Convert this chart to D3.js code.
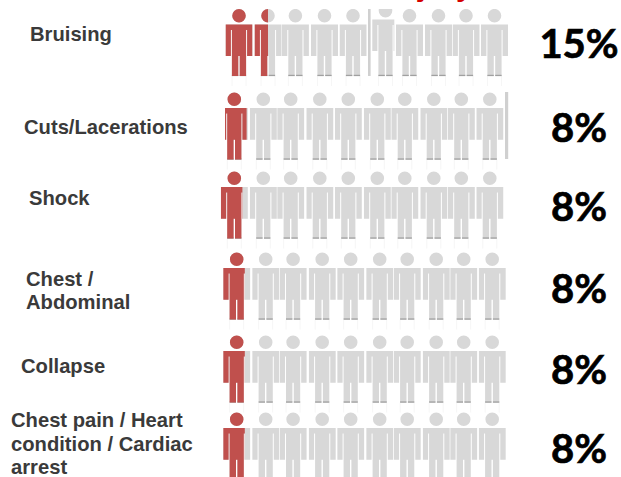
<!DOCTYPE html>
<html>
<head>
<meta charset="utf-8">
<script src="https://cdn.jsdelivr.net/npm/d3@7"></script>
<style>
  html, body { margin: 0; padding: 0; background: #fff; overflow: hidden; }
  svg { display: block; }
</style>
</head>
<body>
<div id="chart"></div>
<script>
const categories = ["Bruising", "Cuts/Lacerations", "Shock", "Chest / Abdominal", "Collapse", "Chest pain / Heart condition / Cardiac arrest"];
const percents = [15, 8, 8, 8, 8, 8];
const labelLines = [
  ["Bruising"],
  ["Cuts/Lacerations"],
  ["Shock"],
  ["Chest /", "Abdominal"],
  ["Collapse"],
  ["Chest pain / Heart", "condition / Cardiac", "arrest"]
];
const people = d3.range(10); // one person = 10%

const width = 621;
const height = 477;

// rows and people are not evenly spaced in the picture
const rowY = d3.scaleOrdinal(categories, [15.7, 99.3, 178.3, 259.3, 342.3, 419.3]);
const rowX = d3.scaleOrdinal(categories, [239, 234.3, 234.3, 236.7, 236.7, 236.7]);
const rowCut = d3.scaleOrdinal(categories, [0, 4.2, 0, 0, 0, 0]); // first figure of row 2 is cropped
const labelX = d3.scaleOrdinal(categories, [30, 24, 29, 26, 21, 11]);
const labelY = d3.scaleOrdinal(categories, [41, 134, 204.5, 286, 373, 427.3]);
const pctY = d3.scaleOrdinal(categories, [58, 142, 221, 303, 384, 463]);
const personX = d3.scaleOrdinal(people, [0, 29, 56.4, 85.5, 114, 143, 170.5, 199.5, 227, 255.5]);

const svg = d3.select("#chart").append("svg").attr("width", width).attr("height", height);
const defs = svg.append("defs");

// stick figure, drawn around head centre
function personPath(cx, headY, legBottom) {
  const p = d3.path();
  const top = headY + 8.7;
  const armBottom = top + 31.7;
  const legEnd = legBottom === undefined ? top + 51.6 : legBottom;
  p.moveTo(cx + 6.8, headY);
  p.arc(cx, headY, 6.8, 0, 2 * Math.PI);
  p.rect(cx - 13.5, top, 27, 5.5);
  p.rect(cx - 13.5, top + 5.5, 5.4, armBottom - top - 5.5);
  p.rect(cx + 8.1, top + 5.5, 5.4, armBottom - top - 5.5);
  p.rect(cx - 7.1, top + 5.5, 14.2, armBottom - top - 5.5);
  p.rect(cx - 7.1, armBottom, 6.4, legEnd - armBottom);
  p.rect(cx + 0.7, armBottom, 6.4, legEnd - armBottom);
  return p.toString();
}

categories.forEach((cat, r) => {
  const g = svg.append("g");
  const headY = rowY(cat);
  const legEnd = headY + 60.3;

  people.forEach((i) => {
    let cx = rowX(cat) + personX(i);
    let hy = headY;
    let legs;
    const left = cx - 13.5 + (i === 0 ? rowCut(cat) : 0);
    let clipLeft = left;
    let clipRight = cx + 14;
    // the sixth figure of the first row is knocked out of line
    if (r === 0 && i === 5) {
      cx = 385.5;
      hy = headY - 5;
      legs = legEnd;
      clipLeft = 372.3;
      clipRight = 394.3;
    }

    const grayId = `gray-${r}-${i}`;
    defs.append("clipPath").attr("id", grayId).append("rect")
      .attr("x", clipLeft).attr("y", 9)
      .attr("width", clipRight - clipLeft).attr("height", height);

    // faint ghost lines under the feet
    [-7, 7].forEach((dx) => {
      g.append("line")
        .attr("x1", cx + dx).attr("x2", cx + dx)
        .attr("y1", legEnd).attr("y2", legEnd + 10)
        .attr("stroke", "#f6f6f6");
    });

    g.append("path")
      .attr("d", personPath(cx, hy, legs))
      .attr("fill", "#d8d8d8")
      .attr("clip-path", `url(#${grayId})`);

    [-1, 1].forEach((side) => {
      g.append("rect")
        .attr("x", side < 0 ? cx - 7.1 : cx + 0.7)
        .attr("y", legEnd - 1.2)
        .attr("width", 6.4)
        .attr("height", 1.3)
        .attr("fill", "#a0a0a0")
        .attr("clip-path", `url(#${grayId})`);
    });

    // red part, share of the figure comes from the percent value
    const share = Math.max(0, Math.min(1, percents[r] / 10 - i));
    if (share > 0) {
      const redId = `red-${r}-${i}`;
      defs.append("clipPath").attr("id", redId).append("rect")
        .attr("x", left).attr("y", 0)
        .attr("width", share * 27).attr("height", height);
      g.append("path")
        .attr("d", personPath(cx, hy, legs))
        .attr("fill", "#c0504d")
        .attr("clip-path", `url(#${redId})`);
    }
  });

  svg.append("text")
    .attr("x", labelX(cat))
    .attr("y", labelY(cat))
    .attr("font-family", "'Liberation Sans', Arial, sans-serif")
    .attr("font-weight", 700)
    .attr("font-size", 20.2)
    .attr("fill", "#3a3a3a")
    .selectAll("tspan")
    .data(labelLines[r])
    .enter()
    .append("tspan")
    .attr("x", labelX(cat))
    .attr("dy", (d, j) => (j === 0 ? 0 : 23.3))
    .text((d) => d);

  svg.append("text")
    .attr("x", 579)
    .attr("y", pctY(cat))
    .attr("text-anchor", "middle")
    .attr("font-family", "Lato, 'Open Sans', sans-serif")
    .attr("font-weight", 700)
    .attr("font-size", 40)
    .attr("fill", "#000")
    .attr("stroke", "#000")
    .attr("stroke-width", 0.7)
    .text(percents[r] + "%");
});

// leftover slivers of the cropped picture
svg.append("rect").attr("x", 368).attr("y", 9).attr("width", 2.6).attr("height", 67).attr("fill", "#d0d0d0");
svg.append("rect").attr("x", 505).attr("y", 92).attr("width", 3.2).attr("height", 67).attr("fill", "#d0d0d0");

// title is cut off by the top of the picture, only the tails show
svg.append("text")
  .attr("x", 391)
  .attr("y", -4)
  .attr("font-family", "'Liberation Sans', Arial, sans-serif")
  .attr("font-weight", 700)
  .attr("font-size", 30)
  .attr("fill", "#d40000")
  .text("Injury");
</script>
</body>
</html>
